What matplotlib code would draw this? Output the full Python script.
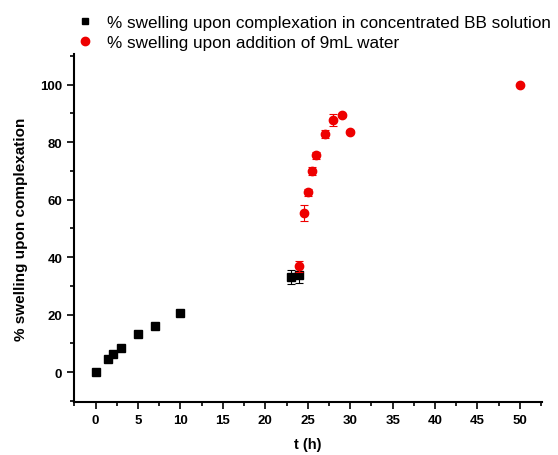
import numpy as np
import matplotlib
matplotlib.use("Agg")
import matplotlib.pyplot as plt
from matplotlib.ticker import MultipleLocator
from matplotlib.lines import Line2D

plt.rcParams['font.family'] = ['Liberation Sans', 'DejaVu Sans']

# complexation in concentrated BB solution
t_bb = [0, 1.5, 2, 3, 5, 7, 10, 23, 24]
sw_bb = [0, 4.5, 6.3, 8.5, 13.2, 16.0, 20.6, 33.0, 33.9]
err_bb = [0, 1.0, 0.5, 0.5, 0.4, 0.4, 0.6, 2.5, 3.0]

# after adding 9 mL water
t_w = [24, 24.5, 25, 25.5, 26, 27, 28, 29, 30, 50]
sw_w = [36.8, 55.5, 62.6, 70.0, 75.4, 82.8, 87.7, 89.4, 83.6, 100]
err_w = [2.0, 2.8, 1.2, 1.5, 1.2, 1.5, 2.0, 0.5, 0.5, 0]

labels = ["% swelling upon complexation in concentrated BB solution",
          "% swelling upon addition of 9mL water"]

fig = plt.figure(figsize=(5.58, 4.56), dpi=100)
ax = fig.add_axes([0.1326, 0.1162, 0.8387, 0.7632])

ax.errorbar(t_bb, sw_bb, yerr=err_bb, fmt='s', color='black', ms=5.2,
            elinewidth=0.8, capsize=3, capthick=0.8, zorder=3)
ax.errorbar(t_w, sw_w, yerr=err_w, fmt='o', color='#ee0000', ms=6,
            elinewidth=0.8, capsize=3, capthick=0.8, zorder=4)

ax.set_xlim(-2.55, 52.6)
ax.set_ylim(-10.4, 110.7)
ax.xaxis.set_major_locator(MultipleLocator(5))
ax.xaxis.set_minor_locator(MultipleLocator(2.5))
ax.yaxis.set_major_locator(MultipleLocator(20))
ax.yaxis.set_minor_locator(MultipleLocator(10))

for s in ['top', 'right']:
    ax.spines[s].set_visible(False)
for s in ['left', 'bottom']:
    ax.spines[s].set_linewidth(1.5)

ax.tick_params(which='major', direction='out', length=5, width=1.2, labelsize=9.5)
ax.tick_params(which='minor', direction='out', length=3, width=1.2)
for lab in ax.get_xticklabels() + ax.get_yticklabels():
    lab.set_fontweight('bold')

ax.set_xlabel("t (h)", fontsize=10.5, fontweight='bold', labelpad=8)
ax.set_ylabel("% swelling upon complexation", fontsize=11, fontweight='bold', labelpad=9)

handles = [Line2D([], [], ls='none', marker='s', color='black', ms=5),
           Line2D([], [], ls='none', marker='o', color='#ee0000', ms=6)]
fig.legend(handles, labels, loc='upper left', bbox_to_anchor=(0.1156, 0.992),
           frameon=False, fontsize=12.3, handlelength=1.0, handletextpad=0.8,
           labelspacing=0.3, borderaxespad=0.3)

fig.savefig("out.png", dpi=100)
